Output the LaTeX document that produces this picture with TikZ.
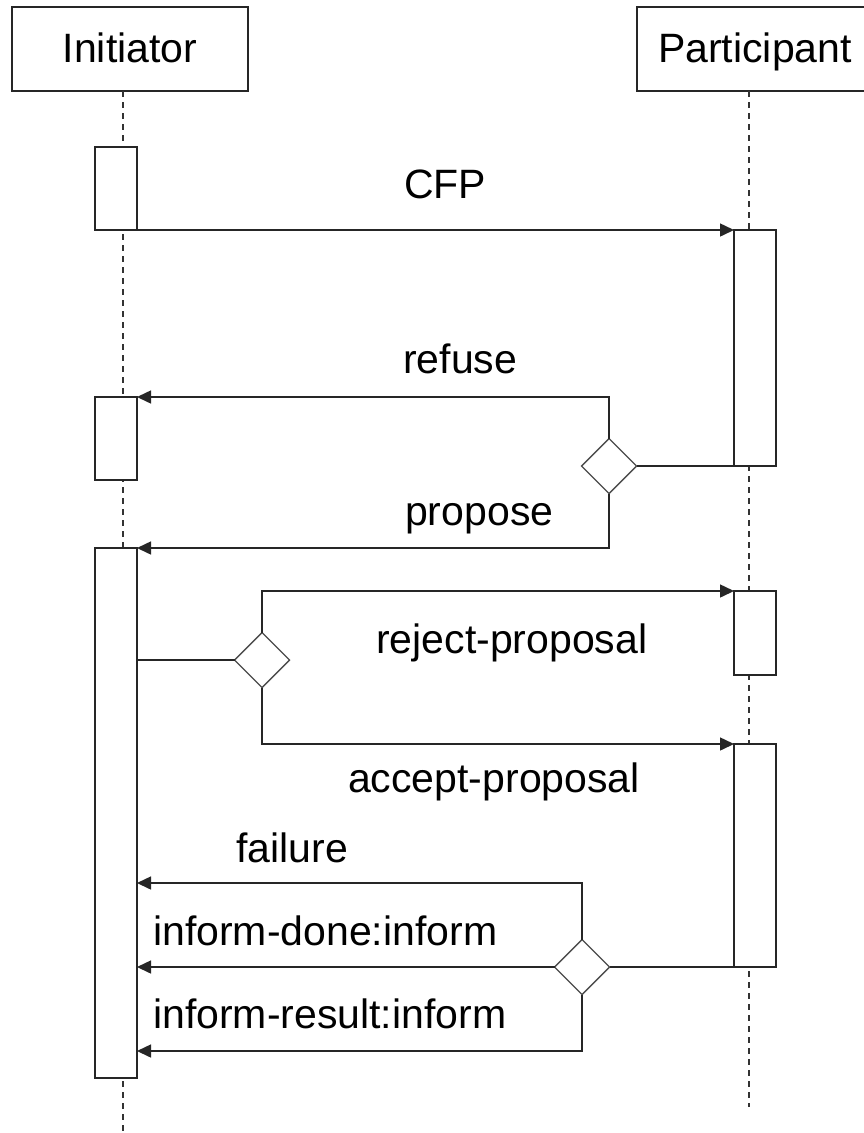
\documentclass[tikz,border=0pt]{standalone}
\usepackage{fontspec}
\setmainfont{Liberation Sans}
\usetikzlibrary{arrows.meta,shapes.geometric}

\tikzset{
  lane/.style={draw=black!85, line width=1.5pt, fill=white, rectangle,
    inner sep=0pt, outer sep=0pt, text height=30pt, text depth=4pt,
    font=\fontsize{41}{49}\selectfont},
  actbox/.style={draw=black!85, line width=1.5pt, fill=white, rectangle,
    inner sep=0pt, outer sep=0pt, minimum width=42pt},
  choice/.style={draw=black!70, line width=1.4pt, fill=white, diamond,
    aspect=1, inner sep=0pt, outer sep=0pt, minimum size=55pt},
  lifeline/.style={draw=black!80, line width=1.4pt, dash pattern=on 6pt off 5pt},
  wire/.style={draw=black!85, line width=1.5pt},
  msg/.style={wire, -{Triangle[length=14pt,width=13pt]}},
  lbl/.style={inner sep=0pt, anchor=base west, font=\fontsize{41}{49}\selectfont}
}

\begin{document}
\begin{tikzpicture}[x=1pt, y=-1pt]
\useasboundingbox (0,0) rectangle (864,1133);
\clip (0,0) rectangle (864,1133);
\fill[white] (0,0) rectangle (864,1133);

% roles
\node[lane, minimum width=236pt, minimum height=84pt] (ini) at (130,49) {Initiator};
\node[lane, minimum width=236pt, minimum height=84pt] (par) at (755,49) {Participant};

% lifelines
\coordinate (iniEnd) at (123,1133);
\coordinate (parEnd) at (749,1107);
\draw[lifeline] (ini.south -| iniEnd) -- (iniEnd);
\draw[lifeline] (par.south -| parEnd) -- (parEnd);

% activation bars
\node[actbox, minimum height=83pt] (a1) at (116,188.5) {};
\node[actbox, minimum height=83pt] (a2) at (116,438.5) {};
\node[actbox, minimum height=530pt] (a3) at (116,813) {};
\node[actbox, minimum height=236pt] (p1) at (755,348) {};
\node[actbox, minimum height=84pt] (p2) at (755,633) {};
\node[actbox, minimum height=223pt] (p3) at (755,855.5) {};

% decision points
\node[choice] (d1) at (609,466) {};
\node[choice] (d2) at (262,660) {};
\node[choice] (d3) at (582,967) {};

% call for proposals
\draw[msg] (a1.south east) -- (p1.north west);

% refuse / propose
\draw[wire] (p1.south west) -- (d1.east);
\draw[msg] (d1.north) |- (a2.north east);
\draw[msg] (d1.south) |- (a3.north east);

% reject / accept
\draw[wire] (a3.east |- d2.west) -- (d2.west);
\draw[msg] (d2.north) |- (p2.north west);
\draw[msg] (d2.south) |- (p3.north west);

% outcome
\draw[wire] (p3.south west) -- (d3.east);
\draw[msg] (d3.north) |- (a3.east |- 0,883);
\draw[msg] (d3.west) -- (a3.east |- d3.west);
\draw[msg] (d3.south) |- (a3.east |- 0,1051);

% message labels
\node[lbl] (tCFP) at (404,198) {CFP};
\node[lbl] (tRef) at (403,373) {refuse};
\node[lbl] (tPro) at (405,525) {propose};
\node[lbl] (tRej) at (376,653) {reject-proposal};
\node[lbl] (tAcc) at (348,792) {accept-proposal};
\node[lbl] (tFai) at (236,862) {failure};
\node[lbl] (tDon) at (153,945) {inform-done:inform};
\node[lbl] (tRes) at (153,1028) {inform-result:inform};
\end{tikzpicture}
\end{document}
